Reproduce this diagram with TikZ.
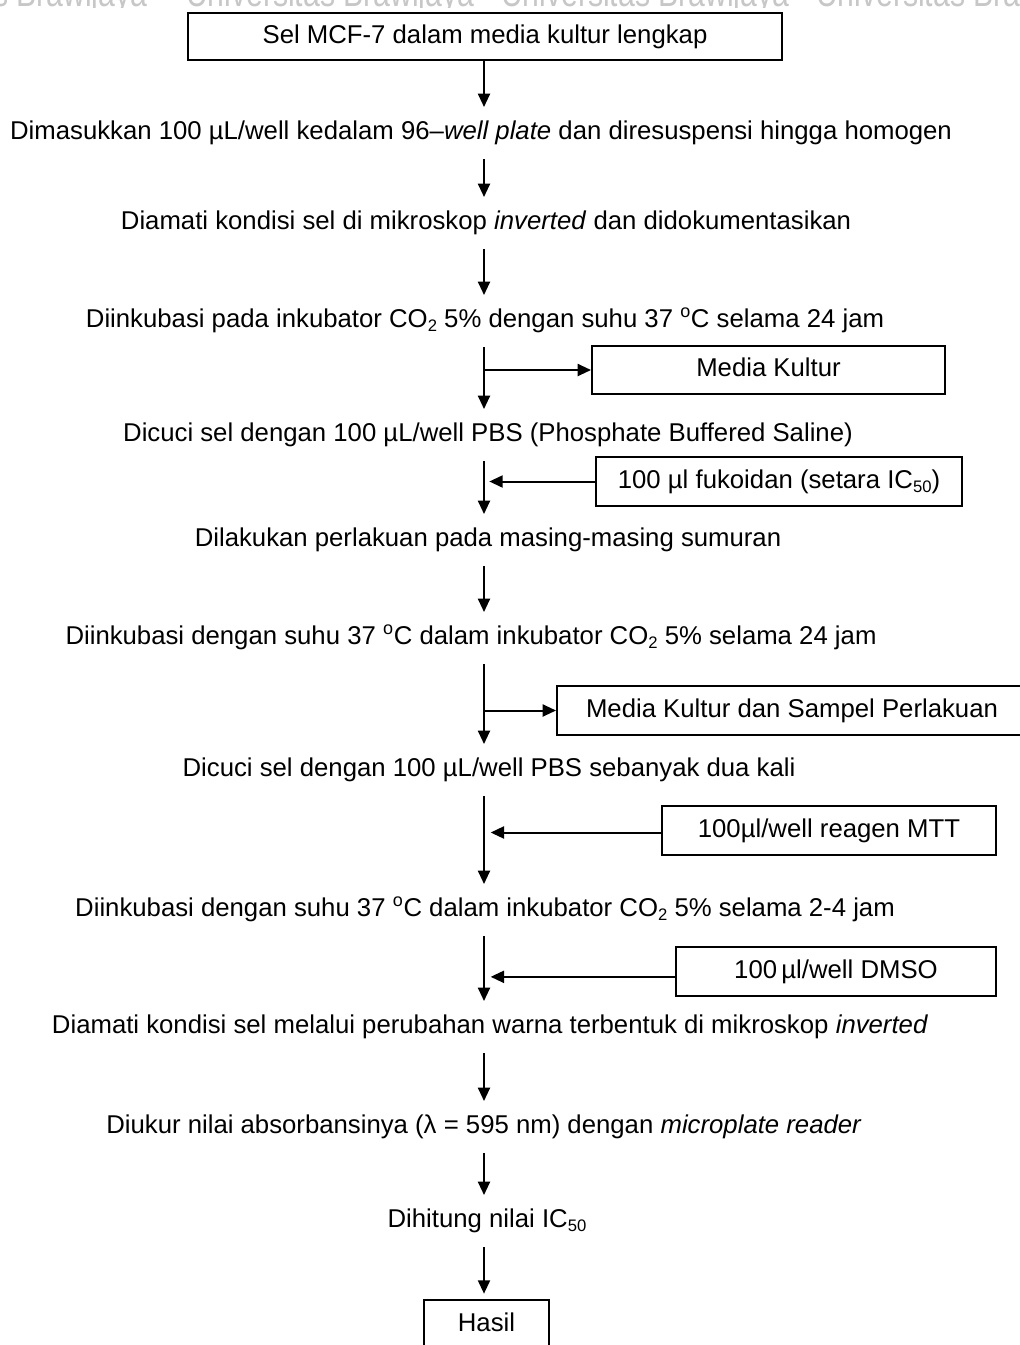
\documentclass[tikz,border=0pt]{standalone}
\usepackage{fontspec}
\setmainfont{Liberation Sans}
\usetikzlibrary{arrows.meta,calc}
\newcommand\fs{\fontsize{19.3}{23}\selectfont}
\newcommand\sub[1]{\raisebox{-0.3ex}{\fontsize{12.5}{14}\selectfont #1}}
\newcommand\degsup{\textsuperscript{o}}
\begin{document}
\begin{tikzpicture}[x=0.75pt,y=-0.75pt,
  line width=1.5pt,
  flowarrow/.style={-{Triangle[width=9pt,length=10pt]}},
  flowtext/.style={font=\fs, inner sep=0pt, text height=14pt, text depth=4pt, minimum height=37.5pt},
  flowbox/.style={draw, font=\fs, inner sep=0pt, text height=14pt, text depth=4pt, fill=white},
  headertext/.style={font=\fontsize{29}{30}\selectfont, text=black!22, inner sep=0pt, anchor=base west}
]
\useasboundingbox (0,0) rectangle (1020,1345);
\fill[white] (0,0) rectangle (1020,1345);
\coordinate (sp) at (484,0);

% faint header line along the top edge
\begin{scope}
  \clip (0,0) rectangle (1020,8);
  \foreach \i/\xx in {0/-142,1/185,2/500,3/815}
    \node[headertext] (wm\i) at (\xx,7) {\scalebox{0.78}[1]{Universitas Brawijaya}};
\end{scope}

\begin{scope}
\clip (0,0) rectangle (1020,1345);

% main column
\node[flowbox, minimum width=445.5pt, minimum height=35.25pt] (b1) at (485,37) {Sel MCF-7 dalam media kultur lengkap};
\node[flowtext] (t2) at (481,133) {Dimasukkan 100 µL/well kedalam 96–\textit{well plate} dan diresuspensi hingga homogen};
\node[flowtext] (t3) at (486,223) {Diamati kondisi sel di mikroskop \textit{inverted} dan didokumentasikan};
\node[flowtext] (t4) at (485,321) {Diinkubasi pada inkubator CO\sub{2} 5\% dengan suhu 37 \degsup C selama 24 jam};
\node[flowtext] (t5) at (488,435) {Dicuci sel dengan 100 µL/well PBS (Phosphate Buffered Saline)};
\node[flowtext] (t6) at (488,540) {Dilakukan perlakuan pada masing-masing sumuran};
\node[flowtext] (t7) at (471,638) {Diinkubasi dengan suhu 37 \degsup C dalam inkubator CO\sub{2} 5\% selama 24 jam};
\node[flowtext] (t8) at (489,770) {Dicuci sel dengan 100 µL/well PBS sebanyak dua kali};
\node[flowtext] (t9) at (485,910) {Diinkubasi dengan suhu 37 \degsup C dalam inkubator CO\sub{2} 5\% selama 2-4 jam};
\node[flowtext] (t10) at (490,1027) {Diamati kondisi sel melalui perubahan warna terbentuk di mikroskop \textit{inverted}};
\node[flowtext] (t11) at (484,1127) {Diukur nilai absorbansinya (λ = 595 nm) dengan \textit{microplate reader}};
\node[flowtext] (t12) at (487,1221) {Dihitung nilai IC\sub{50}};
\node[flowbox, minimum width=93.75pt, minimum height=37.5pt] (hasil) at (486.5,1325) {Hasil};

% side inputs and outputs
\node[flowbox, minimum width=264.75pt, minimum height=36pt] (mk) at (768.5,370) {Media Kultur};
\node[flowbox, minimum width=274.5pt, minimum height=36.75pt] (fk) at (779,481.5) {100 µl fukoidan (setara IC\sub{50})};
\node[flowbox, minimum width=352.5pt, minimum height=36.75pt] (ms) at (792,710.5) {Media Kultur dan Sampel Perlakuan};
\node[flowbox, minimum width=250.5pt, minimum height=36.75pt] (mtt) at (829,830.5) {100µl/well reagen MTT};
\node[flowbox, minimum width=240pt, minimum height=36.75pt] (dmso) at (836,971.5) {100\,µl/well DMSO};

% vertical flow
\draw[flowarrow] (b1.south -| sp) -- (t2.north -| sp);
\foreach \a/\b in {t2/t3,t3/t4,t4/t5,t5/t6,t6/t7,t7/t8,t8/t9,t9/t10,t10/t11,t11/t12}
  \draw[flowarrow] (\a.south -| sp) -- (\b.north -| sp);
\draw[flowarrow, shorten >=4pt] (t12.south -| sp) -- (hasil.north -| sp);

% branches
\draw[flowarrow] (mk.west -| sp) -- (mk.west);
\draw[flowarrow] (ms.west -| sp) -- (ms.west);
\draw[flowarrow, shorten >=4pt] (fk.west) -- (fk.west -| sp);
\draw[flowarrow, shorten >=5pt] ([yshift=-1.5pt]mtt.west) -- ([yshift=-1.5pt]mtt.west -| sp);
\draw[flowarrow, shorten >=5pt] ([yshift=-4pt]dmso.west) -- ([yshift=-4pt]dmso.west -| sp);
\end{scope}
\end{tikzpicture}
\end{document}
